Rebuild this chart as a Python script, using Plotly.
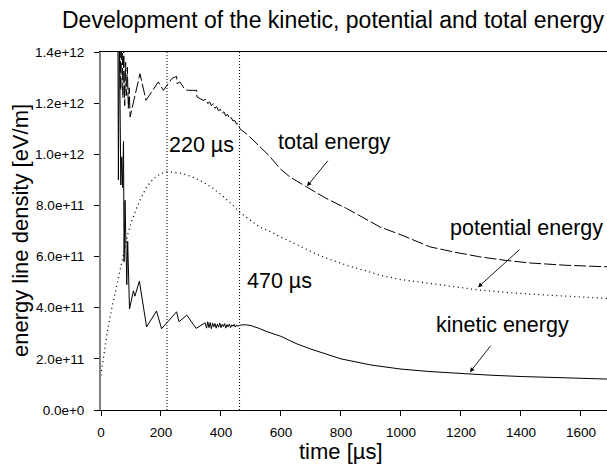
import plotly.graph_objs as go

# values (energy in units of 1e11 eV/m, time in us)
kin_t = [56, 58, 61, 63, 66, 69, 72, 75, 77, 80,
         83, 86, 89, 92, 95, 108, 113, 128, 152, 185,
         202, 252, 260, 286, 317, 347, 352, 356, 360, 364,
         368, 372, 376, 380, 384, 388, 392, 396, 400, 404,
         408, 412, 416, 420, 424, 428, 432, 436, 440, 444,
         448, 452, 456, 460, 470, 485, 500, 525, 550, 600,
         650, 700, 800, 900, 1000, 1100, 1200, 1300, 1400, 1500,
         1600, 1687]
kin_v = [16, 9.0, 15, 10.9, 8.8, 9.9, 8.7, 10.5, 5.8, 8.2,
         6.8, 4.9, 6.6, 4.9, 3.95, 4.66, 4.45, 5.04, 3.25, 3.87,
         3.18, 3.84, 3.45, 3.71, 3.19, 3.41, 3.2, 3.45, 3.22, 3.42,
         3.18, 3.4, 3.25, 3.38, 3.2, 3.36, 3.24, 3.4, 3.22, 3.35,
         3.26, 3.38, 3.2, 3.34, 3.25, 3.36, 3.22, 3.33, 3.27, 3.35,
         3.24, 3.32, 3.28, 3.3, 3.33, 3.33, 3.3, 3.2, 3.08, 2.88,
         2.6, 2.38, 2.0, 1.76, 1.6, 1.5, 1.42, 1.36, 1.31, 1.27,
         1.23, 1.21]

pot_t = [0, 10, 20, 30, 40, 50, 60, 70, 80, 91,
         100, 115, 130, 152, 175, 200, 222, 245, 270, 297,
         330, 370, 408, 440, 461, 500, 530, 570, 597, 630,
         708, 760, 819, 880, 930, 1000, 1097, 1180, 1263, 1380,
         1486, 1590, 1687]
pot_v = [1.35, 2.25, 3.0, 3.65, 4.2, 4.75, 5.3, 5.85, 6.4, 6.95,
         7.3, 7.8, 8.2, 8.72, 9.05, 9.25, 9.32, 9.3, 9.25, 9.15,
         8.98, 8.7, 8.35, 8.0, 7.75, 7.4, 7.15, 6.95, 6.77, 6.6,
         6.15, 5.9, 5.66, 5.45, 5.27, 5.1, 4.95, 4.8, 4.69, 4.57,
         4.49, 4.42, 4.36]

tot_t = [62, 66, 70, 73, 76, 79, 82, 85, 88, 91,
         94, 97, 130, 150, 191, 208, 224, 236, 252, 254,
         263, 280, 291, 319, 320, 341, 350, 356, 362, 368,
         374, 380, 386, 392, 398, 404, 410, 416, 422, 428,
         434, 440, 446, 452, 458, 463, 490, 519, 560, 597,
         630, 686, 750, 819, 880, 930, 1000, 1097, 1180, 1263,
         1350, 1430, 1550, 1687]
tot_v = [16, 12.5, 15, 12.2, 14.2, 11.9, 13.6, 12.3, 13.4, 11.8,
         12.6, 11.46, 13.15, 12.11, 12.83, 12.5, 12.76, 12.96, 13.05, 12.76,
         12.83, 12.53, 12.5, 12.5, 12.24, 12.11, 12.15, 11.98, 12.05, 11.9,
         11.98, 11.8, 11.86, 11.7, 11.76, 11.6, 11.66, 11.5, 11.56, 11.4,
         11.44, 11.3, 11.32, 11.18, 11.2, 11.0, 10.75, 10.42, 9.95, 9.44,
         9.11, 8.72, 8.28, 7.88, 7.5, 7.16, 6.85, 6.38, 6.17, 5.99,
         5.85, 5.75, 5.66, 5.6]

marker_t = [220, 462]
marker_labels = ["220 µs", "470 µs"]

x_ticks = [0, 200, 400, 600, 800, 1000, 1200, 1400, 1600]
y_ticks = [0, 2, 4, 6, 8, 10, 12, 14]
y_tick_text = ["0.0e+0", "2.0e+11", "4.0e+11", "6.0e+11", "8.0e+11",
               "1.0e+12", "1.2e+12", "1.4e+12"]

FONT = "Arial, Liberation Sans, sans-serif"

trace_tot = go.Scatter(x=tot_t, y=tot_v, mode="lines", name="total energy",
                       line=dict(color="black", width=1, dash="12px,3px"))
trace_pot = go.Scatter(x=pot_t, y=pot_v, mode="lines", name="potential energy",
                       line=dict(color="black", width=1.3, dash="1px,3.5px"))
trace_kin = go.Scatter(x=kin_t, y=kin_v, mode="lines", name="kinetic energy",
                       line=dict(color="black", width=1))

layout = go.Layout(
    width=607, height=471,
    margin=dict(l=101, r=0, t=52, b=61),
    paper_bgcolor="white", plot_bgcolor="white",
    showlegend=False,
    font=dict(family=FONT, color="black"),
    xaxis=dict(range=[0, 1687], tickvals=x_ticks, ticks="outside", ticklen=5,
               tickcolor="black", showline=True, linecolor="black", linewidth=1,
               mirror=True, showgrid=False, zeroline=False, automargin=False,
               tickfont=dict(size=13.5), ticklabelstandoff=5),
    yaxis=dict(range=[0, 14], tickvals=y_ticks, ticktext=y_tick_text,
               ticks="outside", ticklen=5, tickcolor="black",
               showline=True, linecolor="#808080", linewidth=2,
               showgrid=False, zeroline=False, automargin=False,
               tickfont=dict(size=13.5), ticklabelstandoff=7),
)

fig = go.Figure(data=[trace_tot, trace_pot, trace_kin], layout=layout)

for t in marker_t:
    fig.add_vline(x=t, line=dict(color="black", width=1, dash="1px,2px"))

big = dict(family=FONT, size=21.5, color="black")

# title
fig.add_annotation(x=0.46, y=1.09, xref="paper", yref="paper", showarrow=False,
                   text="Development of the kinetic, potential and total energy",
                   xanchor="center", yanchor="middle",
                   font=dict(family=FONT, size=23, color="black"))

fig.add_annotation(x=marker_t[0], y=10.35, text=marker_labels[0], showarrow=False,
                   xanchor="left", yanchor="middle", font=big)
fig.add_annotation(x=marker_t[1] + 18, y=5.04, text=marker_labels[1], showarrow=False,
                   xanchor="left", yanchor="middle", font=big)

fig.add_annotation(x=780, y=10.47, text="total energy", showarrow=False, font=big)
fig.add_annotation(x=1420, y=7.11, text="potential energy", showarrow=False, font=big)
fig.add_annotation(x=1338, y=3.32, text="kinetic energy", showarrow=False, font=big)

arrow = dict(showarrow=True, arrowhead=2, arrowsize=1, arrowwidth=0.9,
             arrowcolor="black", text="")
fig.add_annotation(x=687, y=8.75, ax=22, ay=-27, **arrow)
fig.add_annotation(x=1257, y=4.80, ax=43, ay=-39, **arrow)
fig.add_annotation(x=1230, y=1.48, ax=22, ay=-28, **arrow)

# axis titles
fig.add_annotation(x=-0.16, y=0.5, xref="paper", yref="paper", textangle=-90,
                   xanchor="center", yanchor="middle",
                   text="energy line density [eV/m]", showarrow=False,
                   font=dict(family=FONT, size=22, color="black"))
fig.add_annotation(x=800, y=-0.117, yref="paper", text="time [µs]",
                   xanchor="center", yanchor="middle",
                   showarrow=False, font=dict(family=FONT, size=22, color="black"))

# drop the default 8px page margin so the figure sits at the window corner
fig.write_html("out.html", config={"displayModeBar": False},
               post_script="document.body.style.margin='0px';")
